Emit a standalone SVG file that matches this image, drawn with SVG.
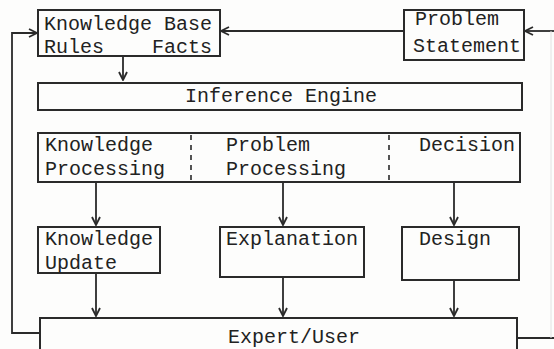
<svg xmlns="http://www.w3.org/2000/svg" width="554" height="349" viewBox="0 0 554 349">
<defs>
<style>
.box{fill:none;stroke:#2a2a2a;stroke-width:2}
.ln{fill:none;stroke:#2a2a2a;stroke-width:1.8}
.dash{fill:none;stroke:#2a2a2a;stroke-width:1.6;stroke-dasharray:5 5}
text{font-family:"Liberation Mono","DejaVu Sans Mono",monospace;font-size:20px;fill:#222}
</style>
<marker id="v" viewBox="0 0 10 10" refX="9" refY="5" markerWidth="10" markerHeight="11" markerUnits="userSpaceOnUse" orient="auto">
<path d="M1,1 L9,5 L1,9" fill="none" stroke="#2a2a2a" stroke-width="1.8"/>
</marker>
</defs>
<rect width="554" height="349" fill="#fdfdfc"/>
<g id="connectors">
<line class="ln" x1="554" y1="31" x2="525" y2="31" marker-end="url(#v)"/>
<line class="ln" x1="404" y1="31" x2="221" y2="31" marker-end="url(#v)"/>
<polyline class="ln" points="40,333 12,333 12,33 37,33" marker-end="url(#v)"/>
<line class="ln" x1="123" y1="57" x2="123" y2="80" marker-end="url(#v)"/>
<line class="ln" x1="96" y1="182" x2="96" y2="225" marker-end="url(#v)"/>
<line class="ln" x1="283" y1="182" x2="283" y2="225" marker-end="url(#v)"/>
<line class="ln" x1="454" y1="182" x2="454" y2="225" marker-end="url(#v)"/>
<line class="ln" x1="96" y1="273" x2="96" y2="316" marker-end="url(#v)"/>
<line class="ln" x1="283" y1="277" x2="283" y2="316" marker-end="url(#v)"/>
<line class="ln" x1="454" y1="280" x2="454" y2="316" marker-end="url(#v)"/>
<line class="ln" x1="517" y1="338" x2="554" y2="338"/>
<line x1="551" y1="31" x2="551" y2="338" stroke="#e2e2e2" stroke-width="1"/>
</g>
<g id="knowledge-base">
<rect class="box" x="38" y="10" width="182" height="46"/>
<text x="44" y="30">Knowledge Base</text>
<text x="44" y="53">Rules</text>
<text x="152" y="53">Facts</text>
</g>
<g id="problem-statement">
<rect class="box" x="404" y="10" width="120" height="50"/>
<text x="415" y="25">Problem</text>
<text x="413" y="52">Statement</text>
</g>
<g id="inference-engine">
<rect class="box" x="38" y="83" width="484" height="27"/>
<text x="185" y="102">Inference Engine</text>
</g>
<g id="processing">
<rect class="box" x="38" y="133" width="482" height="49"/>
<line class="dash" x1="191" y1="135" x2="191" y2="181"/>
<line class="dash" x1="389" y1="135" x2="389" y2="181"/>
<text x="45" y="151">Knowledge</text>
<text x="45" y="175">Processing</text>
<text x="226" y="151">Problem</text>
<text x="226" y="175">Processing</text>
<text x="419" y="151">Decision</text>
</g>
<g id="knowledge-update">
<rect class="box" x="38" y="227" width="122" height="46"/>
<text x="45" y="245">Knowledge</text>
<text x="45" y="269">Update</text>
</g>
<g id="explanation">
<rect class="box" x="220" y="227" width="144" height="50"/>
<text x="226" y="245">Explanation</text>
</g>
<g id="design">
<rect class="box" x="402" y="227" width="117" height="53"/>
<text x="419" y="245">Design</text>
</g>
<g id="expert-user">
<polyline class="box" points="40,352 40,318 517,318 517,352"/>
<text x="228" y="343">Expert/User</text>
</g>
</svg>
